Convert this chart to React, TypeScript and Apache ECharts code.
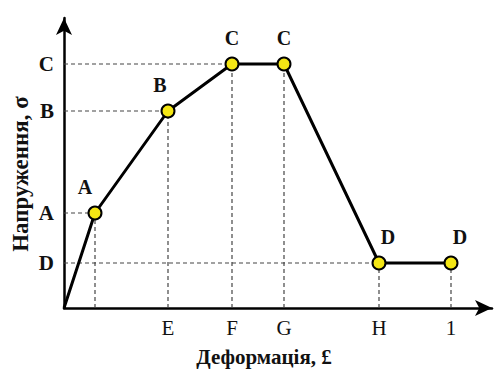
import React, { useEffect, useRef } from "react";
import * as echarts from "echarts";

const xTickNames = ["E", "F", "G", "H", "1"];
const xTickValues = [104, 168, 220, 315, 387];
const yTickNames = ["D", "A", "B", "C"];
const yTickValues = [45, 95, 197, 244];
const pointNames = ["", "A", "B", "C", "C", "D", "D"];
const pointX = [0, 31, 104, 168, 220, 315, 387];
const pointY = [0, 95, 197, 244, 244, 45, 45];
const labelOffsets: Record<string, number[]> = {
  A: [-10, -4],
  B: [-8, -4],
  C: [0, -4],
  D: [9, -4],
};

const FONT = "Liberation Serif";

export default function App() {
  const ref = useRef<HTMLDivElement>(null);
  useEffect(() => {
    if (!ref.current) return;
    const chart = echarts.init(ref.current, null, { renderer: "svg" });
    const dash = { color: "#444", width: 1.2, type: [4, 3] as number[] };
    const guideSeries: any[] = [];
    pointX.forEach((x, i) => {
      if (i === 0) return;
      guideSeries.push({
        type: "line",
        data: [[x, 0], [x, pointY[i]]],
        symbol: "none",
        lineStyle: dash,
        silent: true,
        z: 1,
      });
    });
    const seen = new Set<number>();
    pointY.forEach((y, i) => {
      if (i === 0 || seen.has(y)) return;
      seen.add(y);
      guideSeries.push({
        type: "line",
        data: [[0, y], [pointX[i], y]],
        symbol: "none",
        lineStyle: dash,
        silent: true,
        z: 1,
      });
    });

    const mainData = pointX.map((x, i) => {
      const name = pointNames[i];
      const item: any = { value: [x, pointY[i]] };
      if (!name) {
        item.symbol = "none";
      } else {
        item.label = {
          show: true,
          formatter: name,
          position: "top",
          offset: labelOffsets[name],
        };
      }
      return item;
    });

    chart.setOption({
      animation: false,
      backgroundColor: "#fff",
      grid: { left: 64, right: 10, top: 18, bottom: 62 },
      xAxis: {
        type: "value",
        min: 0,
        max: 428,
        splitLine: { show: false },
        axisTick: { show: false },
        axisLine: {
          lineStyle: { color: "#000", width: 2.5 },
          symbol: ["none", "arrow"],
          symbolSize: [12, 17],
        },
        axisLabel: {
          customValues: xTickValues,
          formatter: (v: number) => xTickNames[xTickValues.indexOf(v)] ?? "",
          fontFamily: FONT,
          fontSize: 21,
          color: "#111",
          margin: 9,
        },
      },
      yAxis: {
        type: "value",
        min: 0,
        max: 290,
        splitLine: { show: false },
        axisTick: { show: false },
        axisLine: {
          lineStyle: { color: "#000", width: 2.5 },
          symbol: ["none", "arrow"],
          symbolSize: [12, 17],
        },
        axisLabel: {
          customValues: yTickValues,
          formatter: (v: number) => yTickNames[yTickValues.indexOf(v)] ?? "",
          fontFamily: FONT,
          fontSize: 21,
          fontWeight: "bold",
          color: "#111",
          margin: 10,
        },
      },
      series: [
        ...guideSeries,
        {
          type: "line",
          data: mainData,
          symbol: "circle",
          symbolSize: 13,
          lineStyle: { color: "#000", width: 3 },
          itemStyle: { color: "#f4e614", borderColor: "#000", borderWidth: 2 },
          label: {
            fontFamily: FONT,
            fontSize: 20,
            fontWeight: "bold",
            color: "#111",
          },
          z: 5,
        },
      ],
      graphic: [
        {
          type: "text",
          x: 20,
          y: 174,
          rotation: Math.PI / 2,
          style: {
            text: "Напруження, σ",
            fontFamily: FONT,
            fontSize: 23,
            fontWeight: "bold",
            fill: "#111",
            align: "center",
            verticalAlign: "middle",
          },
        },
        {
          type: "text",
          x: 264,
          y: 357,
          style: {
            text: "Деформація, £",
            fontFamily: FONT,
            fontSize: 21,
            fontWeight: "bold",
            fill: "#111",
            align: "center",
            verticalAlign: "middle",
          },
        },
      ],
    });
    return () => chart.dispose();
  }, []);
  return <div ref={ref} style={{ width: 502, height: 370, position: "absolute", left: 0, top: 0 }} />;
}
